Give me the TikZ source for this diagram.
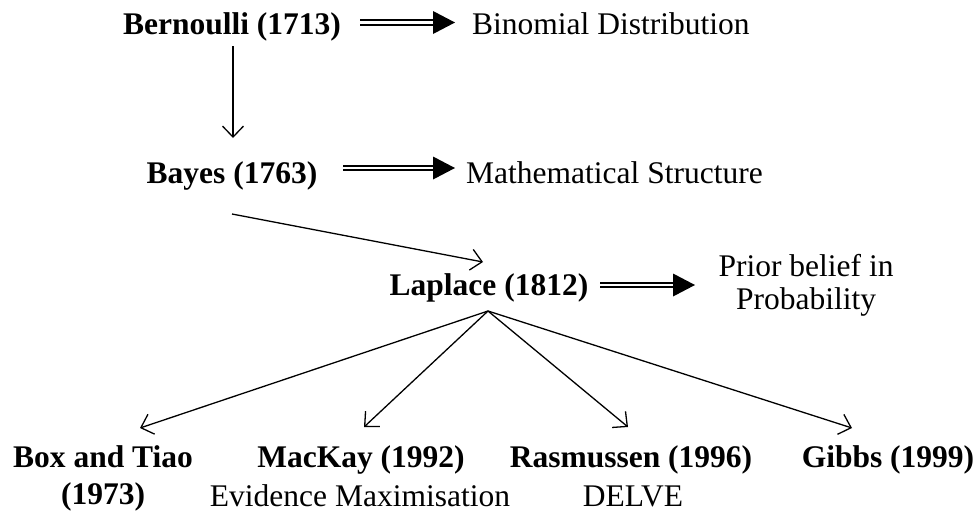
\documentclass[tikz,border=0pt]{standalone}
\usepackage{fontspec}
\setmainfont{Liberation Serif}
\usetikzlibrary{arrows.meta}
\begin{document}
\begin{tikzpicture}[x=1pt,y=-1pt,
  lbl/.style={inner sep=0pt, font=\fontsize{31.5}{33}\selectfont},
  nm/.style={inner sep=0pt, font=\fontsize{31.5}{33}\selectfont\bfseries},
  arr/.style={line width=1.3pt, -{Straight Barb[length=11pt,width=21pt,line width=1.3pt]}},
  dblline/.style={line width=1.8pt, double distance=2.6pt, shorten >=18pt},
  tipfill/.style={fill=black}]
\useasboundingbox (0,0) rectangle (977,520);
\node[nm, anchor=base] (ber) at (232,34) {Bernoulli (1713)};
\node[lbl, anchor=base west] (bin) at (472,34) {Binomial Distribution};
\node[nm, anchor=base] (bay) at (232,183) {Bayes (1763)};
\node[lbl, anchor=base west] (mat) at (466,183) {Mathematical Structure};
\node[nm, anchor=base] (lap) at (489,295) {Laplace (1812)};
\node[lbl, anchor=base] (pri1) at (806,276) {Prior belief in};
\node[lbl, anchor=base] (pri2) at (806,309) {Probability};
\node[nm, anchor=base] (box) at (103,467) {Box and Tiao};
\node[nm, anchor=base] (box2) at (103,504) {(1973)};
\node[nm, anchor=base] (mac) at (361,467) {MacKay (1992)};
\node[nm, anchor=base] (ras) at (631,467) {Rasmussen (1996)};
\node[nm, anchor=base] (gib) at (888,467) {Gibbs (1999)};
\node[lbl, anchor=base] (evi) at (360,506) {Evidence Maximisation};
\node[lbl, anchor=base] (del) at (633,506) {DELVE};
\coordinate (a1s) at (360,22.5); \coordinate (a1e) at (455,22.5);
\coordinate (a2s) at (343,168); \coordinate (a2e) at (455,168);
\coordinate (a3s) at (600,285); \coordinate (a3e) at (695,285);
\foreach \s/\e in {a1s/a1e, a2s/a2e, a3s/a3e}{
  \draw[dblline] (\s) -- (\e);
  \fill[tipfill] ([shift={(-22,-11.5)}]\e) -- (\e) -- ([shift={(-22,11.5)}]\e) -- cycle;
}
\coordinate (v1s) at (233,46); \coordinate (v1e) at (233,138);
\draw[arr] (v1s) -- (v1e);
\coordinate (b1s) at (232,214); \coordinate (b1e) at (483,262);
\draw[arr] (b1s) -- (b1e);
\coordinate (apex) at (488,311);
\coordinate (tbox) at (140,428);
\coordinate (tmac) at (364,427);
\coordinate (tras) at (628,427);
\coordinate (tgib) at (852,428);
\draw[arr] (apex) -- (tbox);
\draw[arr] (apex) -- (tmac);
\draw[arr] (apex) -- (tras);
\draw[arr] (apex) -- (tgib);
\end{tikzpicture}
\end{document}
